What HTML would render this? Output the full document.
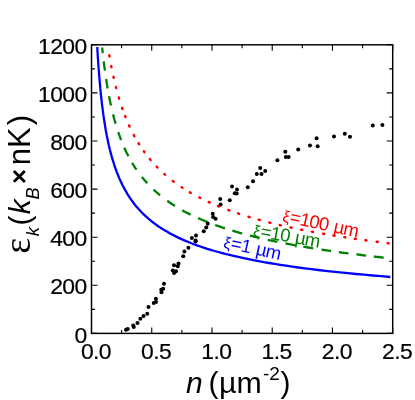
<!DOCTYPE html>
<html><head><meta charset="utf-8"><title>chart</title>
<style>html,body{margin:0;padding:0;background:#fff;}svg{display:block;will-change:transform;}text{font-family:"Liberation Sans",sans-serif;fill:#000;}</style></head>
<body>
<svg width="415" height="400" viewBox="0 0 415 400">
<rect width="415" height="400" fill="#fff"/>
<clipPath id="c"><rect x="91.5" y="44.8" width="301.2" height="288.59999999999997"/></clipPath>
<g clip-path="url(#c)" fill="none" stroke-width="2">
<path d="M97.3,47.0L97.4,50.1L97.6,53.2L97.8,56.3L98.0,59.3L98.2,62.4L98.4,65.4L98.6,68.4L98.9,71.4L99.1,74.3L99.3,77.2L99.6,80.2L99.8,83.0L100.1,85.9L100.3,88.7L100.6,91.5L100.9,94.3L101.2,97.1L101.5,99.8L101.8,102.6L102.1,105.3L102.5,107.9L102.8,110.6L103.1,113.2L103.5,115.8L103.9,118.4L104.3,121.0L104.7,123.5L105.1,126.0L105.5,128.5L105.9,131.0L106.4,133.4L106.8,135.8L107.3,138.2L107.8,140.6L108.3,142.9L108.8,145.3L109.4,147.6L109.9,149.8L110.5,152.1L111.1,154.3L111.7,156.5L112.3,158.7L113.0,160.9L113.7,163.0L114.3,165.2L115.0,167.3L115.8,169.3L116.5,171.4L117.3,173.4L118.1,175.4L118.9,177.4L119.8,179.4L120.7,181.3L121.6,183.3L122.5,185.2L123.5,187.0L124.5,188.9L125.5,190.7L126.6,192.5L127.6,194.3L128.8,196.1L129.9,197.9L131.1,199.6L132.4,201.3L133.6,203.0L134.9,204.7L136.3,206.4L137.7,208.0L139.1,209.6L140.6,211.2L142.1,212.8L143.7,214.4L145.3,215.9L147.0,217.4L148.7,218.9L150.5,220.4L152.3,221.9L154.2,223.3L156.2,224.8L158.2,226.2L160.2,227.6L162.4,228.9L164.6,230.3L166.9,231.6L169.2,233.0L171.6,234.3L174.1,235.6L176.7,236.9L179.3,238.1L182.1,239.4L184.9,240.6L187.8,241.8L190.8,243.0L193.8,244.2L197.0,245.4L200.3,246.5L203.7,247.6L207.2,248.8L210.8,249.9L214.5,251.0L218.3,252.0L222.2,253.1L226.3,254.2L230.5,255.2L234.8,256.2L239.3,257.2L243.9,258.2L248.6,259.2L253.5,260.2L258.5,261.1L263.7,262.1L269.1,263.0L274.6,263.9L280.3,264.8L286.1,265.7L292.2,266.6L298.4,267.5L304.9,268.3L311.5,269.2L318.3,270.0L325.4,270.8L332.7,271.6L340.2,272.4L347.9,273.2L355.9,274.0L364.1,274.7L372.5,275.5L381.3,276.2L390.3,277.0" stroke="#0000ff" stroke-width="2.3"/>
<ellipse cx="109.42" cy="55.90" rx="1.85" ry="1.3" transform="rotate(80.4 109.42 55.90)" fill="#ff0000" stroke="none"/>
<ellipse cx="111.36" cy="66.60" rx="1.85" ry="1.3" transform="rotate(79.0 111.36 66.60)" fill="#ff0000" stroke="none"/>
<ellipse cx="113.58" cy="77.25" rx="1.85" ry="1.3" transform="rotate(77.4 113.58 77.25)" fill="#ff0000" stroke="none"/>
<ellipse cx="116.03" cy="87.50" rx="1.85" ry="1.3" transform="rotate(75.6 116.03 87.50)" fill="#ff0000" stroke="none"/>
<ellipse cx="118.97" cy="98.10" rx="1.85" ry="1.3" transform="rotate(73.4 118.97 98.10)" fill="#ff0000" stroke="none"/>
<ellipse cx="122.32" cy="108.50" rx="1.85" ry="1.3" transform="rotate(70.8 122.32 108.50)" fill="#ff0000" stroke="none"/>
<ellipse cx="125.32" cy="116.60" rx="1.85" ry="1.3" transform="rotate(68.5 125.32 116.60)" fill="#ff0000" stroke="none"/>
<ellipse cx="129.33" cy="126.00" rx="1.85" ry="1.3" transform="rotate(65.3 129.33 126.00)" fill="#ff0000" stroke="none"/>
<ellipse cx="134.11" cy="135.60" rx="1.85" ry="1.3" transform="rotate(61.7 134.11 135.60)" fill="#ff0000" stroke="none"/>
<ellipse cx="138.83" cy="143.75" rx="1.85" ry="1.3" transform="rotate(58.1 138.83 143.75)" fill="#ff0000" stroke="none"/>
<ellipse cx="144.20" cy="151.75" rx="1.85" ry="1.3" transform="rotate(54.2 144.20 151.75)" fill="#ff0000" stroke="none"/>
<ellipse cx="150.22" cy="159.50" rx="1.85" ry="1.3" transform="rotate(50.1 150.22 159.50)" fill="#ff0000" stroke="none"/>
<ellipse cx="157.09" cy="167.10" rx="1.85" ry="1.3" transform="rotate(45.7 157.09 167.10)" fill="#ff0000" stroke="none"/>
<ellipse cx="164.75" cy="174.37" rx="1.85" ry="1.3" transform="rotate(41.3 164.75 174.37)" fill="#ff0000" stroke="none"/>
<ellipse cx="173.20" cy="181.26" rx="1.85" ry="1.3" transform="rotate(37.1 173.20 181.26)" fill="#ff0000" stroke="none"/>
<ellipse cx="182.05" cy="187.48" rx="1.85" ry="1.3" transform="rotate(33.2 182.05 187.48)" fill="#ff0000" stroke="none"/>
<ellipse cx="190.30" cy="192.57" rx="1.85" ry="1.3" transform="rotate(30.1 190.30 192.57)" fill="#ff0000" stroke="none"/>
<ellipse cx="199.75" cy="197.71" rx="1.85" ry="1.3" transform="rotate(27.0 199.75 197.71)" fill="#ff0000" stroke="none"/>
<ellipse cx="209.20" cy="202.25" rx="1.85" ry="1.3" transform="rotate(24.4 209.20 202.25)" fill="#ff0000" stroke="none"/>
<ellipse cx="218.50" cy="206.25" rx="1.85" ry="1.3" transform="rotate(22.2 218.50 206.25)" fill="#ff0000" stroke="none"/>
<ellipse cx="228.90" cy="210.26" rx="1.85" ry="1.3" transform="rotate(20.0 228.90 210.26)" fill="#ff0000" stroke="none"/>
<ellipse cx="238.50" cy="213.59" rx="1.85" ry="1.3" transform="rotate(18.3 238.50 213.59)" fill="#ff0000" stroke="none"/>
<ellipse cx="249.10" cy="216.94" rx="1.85" ry="1.3" transform="rotate(16.7 249.10 216.94)" fill="#ff0000" stroke="none"/>
<ellipse cx="259.20" cy="219.84" rx="1.85" ry="1.3" transform="rotate(15.4 259.20 219.84)" fill="#ff0000" stroke="none"/>
<ellipse cx="269.85" cy="222.64" rx="1.85" ry="1.3" transform="rotate(14.1 269.85 222.64)" fill="#ff0000" stroke="none"/>
<ellipse cx="280.30" cy="225.17" rx="1.85" ry="1.3" transform="rotate(13.1 280.30 225.17)" fill="#ff0000" stroke="none"/>
<ellipse cx="291.00" cy="227.57" rx="1.85" ry="1.3" transform="rotate(12.1 291.00 227.57)" fill="#ff0000" stroke="none"/>
<ellipse cx="301.65" cy="229.77" rx="1.85" ry="1.3" transform="rotate(11.3 301.65 229.77)" fill="#ff0000" stroke="none"/>
<ellipse cx="312.40" cy="231.84" rx="1.85" ry="1.3" transform="rotate(10.5 312.40 231.84)" fill="#ff0000" stroke="none"/>
<ellipse cx="323.60" cy="233.85" rx="1.85" ry="1.3" transform="rotate(9.8 323.60 233.85)" fill="#ff0000" stroke="none"/>
<ellipse cx="334.00" cy="235.60" rx="1.85" ry="1.3" transform="rotate(9.2 334.00 235.60)" fill="#ff0000" stroke="none"/>
<ellipse cx="344.85" cy="237.31" rx="1.85" ry="1.3" transform="rotate(8.7 344.85 237.31)" fill="#ff0000" stroke="none"/>
<ellipse cx="355.30" cy="238.86" rx="1.85" ry="1.3" transform="rotate(8.2 355.30 238.86)" fill="#ff0000" stroke="none"/>
<ellipse cx="365.90" cy="240.34" rx="1.85" ry="1.3" transform="rotate(7.8 365.90 240.34)" fill="#ff0000" stroke="none"/>
<ellipse cx="377.20" cy="241.84" rx="1.85" ry="1.3" transform="rotate(7.3 377.20 241.84)" fill="#ff0000" stroke="none"/>
<ellipse cx="388.20" cy="243.22" rx="1.85" ry="1.3" transform="rotate(6.9 388.20 243.22)" fill="#ff0000" stroke="none"/>
<path d="M102.2,47.5L102.3,48.9L102.5,50.3L102.6,51.7L102.8,53.1" stroke="#008000" stroke-width="2.3" fill="none"/>
<path d="M103.7,61.3L104.0,63.7L104.3,66.1L104.6,68.4L104.9,70.6" stroke="#008000" stroke-width="2.3" fill="none"/>
<path d="M106.1,79.0L106.5,81.5L106.8,83.9L107.2,86.2L107.6,88.5" stroke="#008000" stroke-width="2.3" fill="none"/>
<path d="M109.0,96.3L109.5,98.7L110.0,101.1L110.5,103.4L111.0,105.6" stroke="#008000" stroke-width="2.3" fill="none"/>
<path d="M113.0,114.4L113.7,116.9L114.3,119.3L115.0,121.5L115.6,123.8" stroke="#008000" stroke-width="2.3" fill="none"/>
<path d="M118.3,132.2L119.0,134.3L119.7,136.2L120.4,138.1L121.1,140.0" stroke="#008000" stroke-width="2.3" fill="none"/>
<path d="M124.3,147.8L125.4,150.0L126.4,152.2L127.4,154.2L128.4,156.2" stroke="#008000" stroke-width="2.3" fill="none"/>
<path d="M132.1,162.8L133.2,164.6L134.3,166.4L135.4,168.1L136.5,169.7" stroke="#008000" stroke-width="2.3" fill="none"/>
<path d="M141.8,176.9L143.2,178.6L144.6,180.2L146.0,181.8L147.3,183.3" stroke="#008000" stroke-width="2.3" fill="none"/>
<path d="M153.6,189.6L155.2,191.1L156.8,192.5L158.4,193.9L160.0,195.3" stroke="#008000" stroke-width="2.3" fill="none"/>
<path d="M167.3,200.8L169.2,202.2L171.2,203.5L173.1,204.8L175.0,206.0" stroke="#008000" stroke-width="2.3" fill="none"/>
<path d="M182.2,210.2L184.3,211.4L186.4,212.5L188.5,213.6L190.6,214.6" stroke="#008000" stroke-width="2.3" fill="none"/>
<path d="M198.1,218.1L200.6,219.2L203.1,220.3L205.7,221.4L208.2,222.4" stroke="#008000" stroke-width="2.3" fill="none"/>
<path d="M215.2,225.0L217.7,225.9L220.1,226.7L222.6,227.6L225.0,228.4" stroke="#008000" stroke-width="2.3" fill="none"/>
<path d="M232.4,230.7L234.9,231.4L237.3,232.1L239.8,232.8L242.2,233.5" stroke="#008000" stroke-width="2.3" fill="none"/>
<path d="M249.9,235.6L252.3,236.2L254.8,236.8L257.2,237.4L259.6,237.9" stroke="#008000" stroke-width="2.3" fill="none"/>
<path d="M267.8,239.8L270.2,240.3L272.6,240.8L275.0,241.4L277.4,241.9" stroke="#008000" stroke-width="2.3" fill="none"/>
<path d="M285.5,243.5L288.0,243.9L290.6,244.4L293.1,244.9L295.6,245.3" stroke="#008000" stroke-width="2.3" fill="none"/>
<path d="M303.3,246.7L305.8,247.1L308.2,247.5L310.7,247.9L313.2,248.3" stroke="#008000" stroke-width="2.3" fill="none"/>
<path d="M321.5,249.6L323.9,250.0L326.3,250.3L328.7,250.7L331.1,251.0" stroke="#008000" stroke-width="2.3" fill="none"/>
<path d="M338.9,252.1L341.3,252.5L343.7,252.8L346.1,253.1L348.5,253.4" stroke="#008000" stroke-width="2.3" fill="none"/>
<path d="M356.4,254.4L358.9,254.7L361.3,255.0L363.7,255.3L366.1,255.6" stroke="#008000" stroke-width="2.3" fill="none"/>
<path d="M373.8,256.5L376.3,256.8L378.8,257.0L381.2,257.3L383.7,257.6" stroke="#008000" stroke-width="2.3" fill="none"/>
</g>
<g fill="#000">
<circle cx="126.00" cy="329.75" r="2.0"/>
<circle cx="127.75" cy="329.00" r="2.0"/>
<circle cx="133.25" cy="325.40" r="2.0"/>
<circle cx="133.75" cy="327.00" r="2.0"/>
<circle cx="137.50" cy="322.90" r="2.0"/>
<circle cx="140.40" cy="318.75" r="2.0"/>
<circle cx="143.50" cy="316.00" r="2.0"/>
<circle cx="147.25" cy="313.75" r="2.0"/>
<circle cx="148.50" cy="306.90" r="2.0"/>
<circle cx="153.75" cy="303.10" r="2.0"/>
<circle cx="156.00" cy="301.90" r="2.0"/>
<circle cx="155.90" cy="298.75" r="2.0"/>
<circle cx="161.50" cy="292.25" r="2.0"/>
<circle cx="164.00" cy="283.75" r="2.0"/>
<circle cx="163.10" cy="288.75" r="2.0"/>
<circle cx="161.25" cy="289.75" r="2.0"/>
<circle cx="172.75" cy="270.60" r="2.0"/>
<circle cx="176.00" cy="271.25" r="2.0"/>
<circle cx="174.10" cy="273.10" r="2.0"/>
<circle cx="174.00" cy="265.25" r="2.0"/>
<circle cx="178.50" cy="263.50" r="2.0"/>
<circle cx="177.75" cy="266.25" r="2.0"/>
<circle cx="183.25" cy="256.25" r="2.0"/>
<circle cx="184.40" cy="251.50" r="2.0"/>
<circle cx="188.40" cy="247.75" r="2.0"/>
<circle cx="195.60" cy="241.50" r="2.0"/>
<circle cx="191.90" cy="237.90" r="2.0"/>
<circle cx="196.00" cy="235.60" r="2.0"/>
<circle cx="195.60" cy="240.60" r="2.0"/>
<circle cx="203.75" cy="231.25" r="2.0"/>
<circle cx="206.25" cy="227.50" r="2.0"/>
<circle cx="207.75" cy="223.75" r="2.0"/>
<circle cx="212.75" cy="213.75" r="2.0"/>
<circle cx="213.10" cy="216.90" r="2.0"/>
<circle cx="215.60" cy="218.75" r="2.0"/>
<circle cx="220.60" cy="204.40" r="2.0"/>
<circle cx="220.25" cy="199.00" r="2.0"/>
<circle cx="229.75" cy="200.25" r="2.0"/>
<circle cx="232.00" cy="186.50" r="2.0"/>
<circle cx="237.00" cy="189.50" r="2.0"/>
<circle cx="234.75" cy="193.20" r="2.0"/>
<circle cx="236.70" cy="193.50" r="2.0"/>
<circle cx="247.80" cy="187.20" r="2.0"/>
<circle cx="253.00" cy="181.20" r="2.0"/>
<circle cx="256.80" cy="174.00" r="2.0"/>
<circle cx="261.50" cy="174.00" r="2.0"/>
<circle cx="260.25" cy="168.00" r="2.0"/>
<circle cx="265.20" cy="171.00" r="2.0"/>
<circle cx="277.40" cy="160.20" r="2.0"/>
<circle cx="285.30" cy="151.65" r="2.0"/>
<circle cx="285.80" cy="156.90" r="2.0"/>
<circle cx="288.60" cy="156.90" r="2.0"/>
<circle cx="298.20" cy="149.40" r="2.0"/>
<circle cx="309.95" cy="145.50" r="2.0"/>
<circle cx="316.60" cy="138.35" r="2.0"/>
<circle cx="317.65" cy="146.20" r="2.0"/>
<circle cx="334.00" cy="136.60" r="2.0"/>
<circle cx="344.80" cy="133.80" r="2.0"/>
<circle cx="350.00" cy="136.80" r="2.0"/>
<circle cx="372.80" cy="125.60" r="2.0"/>
<circle cx="382.40" cy="125.00" r="2.0"/>
</g>
<rect x="91.5" y="44.8" width="301.2" height="288.59999999999997" fill="none" stroke="#000" stroke-width="1.45"/>
<path d="M91.50,333.4v-6M91.50,44.8v6M121.62,333.4v-3.5M121.62,44.8v3.5M151.74,333.4v-6M151.74,44.8v6M181.86,333.4v-3.5M181.86,44.8v3.5M211.98,333.4v-6M211.98,44.8v6M242.10,333.4v-3.5M242.10,44.8v3.5M272.22,333.4v-6M272.22,44.8v6M302.34,333.4v-3.5M302.34,44.8v3.5M332.46,333.4v-6M332.46,44.8v6M362.58,333.4v-3.5M362.58,44.8v3.5M392.70,333.4v-6M392.70,44.8v6M91.5,333.40h6M392.7,333.40h-6M91.5,309.35h3.5M392.7,309.35h-3.5M91.5,285.30h6M392.7,285.30h-6M91.5,261.25h3.5M392.7,261.25h-3.5M91.5,237.20h6M392.7,237.20h-6M91.5,213.15h3.5M392.7,213.15h-3.5M91.5,189.10h6M392.7,189.10h-6M91.5,165.05h3.5M392.7,165.05h-3.5M91.5,141.00h6M392.7,141.00h-6M91.5,116.95h3.5M392.7,116.95h-3.5M91.5,92.90h6M392.7,92.90h-6M91.5,68.85h3.5M392.7,68.85h-3.5M91.5,44.80h6M392.7,44.80h-6" stroke="#000" stroke-width="1.1" fill="none"/>
<g font-size="22.9px" letter-spacing="-0.6" stroke="#000" stroke-width="0.2">
<text x="86.6" y="342.50" text-anchor="end">0</text>
<text x="86.6" y="294.40" text-anchor="end">200</text>
<text x="86.6" y="246.30" text-anchor="end">400</text>
<text x="86.6" y="198.20" text-anchor="end">600</text>
<text x="86.6" y="150.10" text-anchor="end">800</text>
<text x="86.6" y="102.00" text-anchor="end">1000</text>
<text x="86.6" y="53.90" text-anchor="end">1200</text>
<text x="95.90" y="359.3" text-anchor="middle">0.0</text>
<text x="156.14" y="359.3" text-anchor="middle">0.5</text>
<text x="216.38" y="359.3" text-anchor="middle">1.0</text>
<text x="276.62" y="359.3" text-anchor="middle">1.5</text>
<text x="336.86" y="359.3" text-anchor="middle">2.0</text>
<text x="397.10" y="359.3" text-anchor="middle">2.5</text>
</g>
<text x="186" y="392.5" font-size="30px" font-style="italic">n</text>
<text x="208.5" y="392.5" font-size="30px" font-style="normal">(</text>
<text x="219" y="392.5" font-size="30.3px" font-style="normal">µm</text>
<text x="263" y="380.3" font-size="19px" font-style="normal">-2</text>
<text x="280.5" y="392.5" font-size="30px" font-style="normal">)</text>
<text transform="translate(30.2,253.8) rotate(-90) scale(1.0,1)" font-size="38px" style="font-family:'Liberation Serif',serif">ε</text>
<text transform="translate(39.4,236.3) rotate(-90) scale(1.0,1)" font-size="18.6px" font-style="italic" font-weight="normal">k</text>
<text transform="translate(29.9,225.5) rotate(-90) scale(1,1)" font-size="30px" font-style="normal" font-weight="normal">(</text>
<text transform="translate(29.9,214.3) rotate(-90) scale(1,1)" font-size="30px" font-style="italic" font-weight="normal">k</text>
<text transform="translate(38.7,199.6) rotate(-90) scale(1,1)" font-size="18.2px" font-style="italic" font-weight="normal">B</text>
<text transform="translate(28.0,184) rotate(-90) scale(1,1)" font-size="26px" font-style="normal" font-weight="bold">×</text>
<text transform="translate(29.9,165.2) rotate(-90) scale(1,1)" font-size="31px" font-style="normal" font-weight="normal">nK</text>
<text transform="translate(29.9,125.3) rotate(-90) scale(1,1)" font-size="31px" font-style="normal" font-weight="normal">)</text>
<text transform="translate(222.8,247.4) rotate(12.5)" font-size="18.5px" letter-spacing="-0.7" style="fill:#0000ff"><tspan font-size="16px">ξ</tspan><tspan dx="1.0">=1<tspan dx="1.3"> µm</tspan></tspan></text>
<text transform="translate(252.4,235.9) rotate(10.0)" font-size="18.5px" letter-spacing="-0.7" style="fill:#008000"><tspan font-size="16px">ξ</tspan><tspan dx="1.0">=10<tspan dx="1.3"> µm</tspan></tspan></text>
<text transform="translate(281.7,221.3) rotate(12.0)" font-size="18.5px" letter-spacing="-0.7" style="fill:#ff0000"><tspan font-size="16px">ξ</tspan><tspan dx="1.0">=100<tspan dx="1.3"> µm</tspan></tspan></text>
</svg>
</body></html>
